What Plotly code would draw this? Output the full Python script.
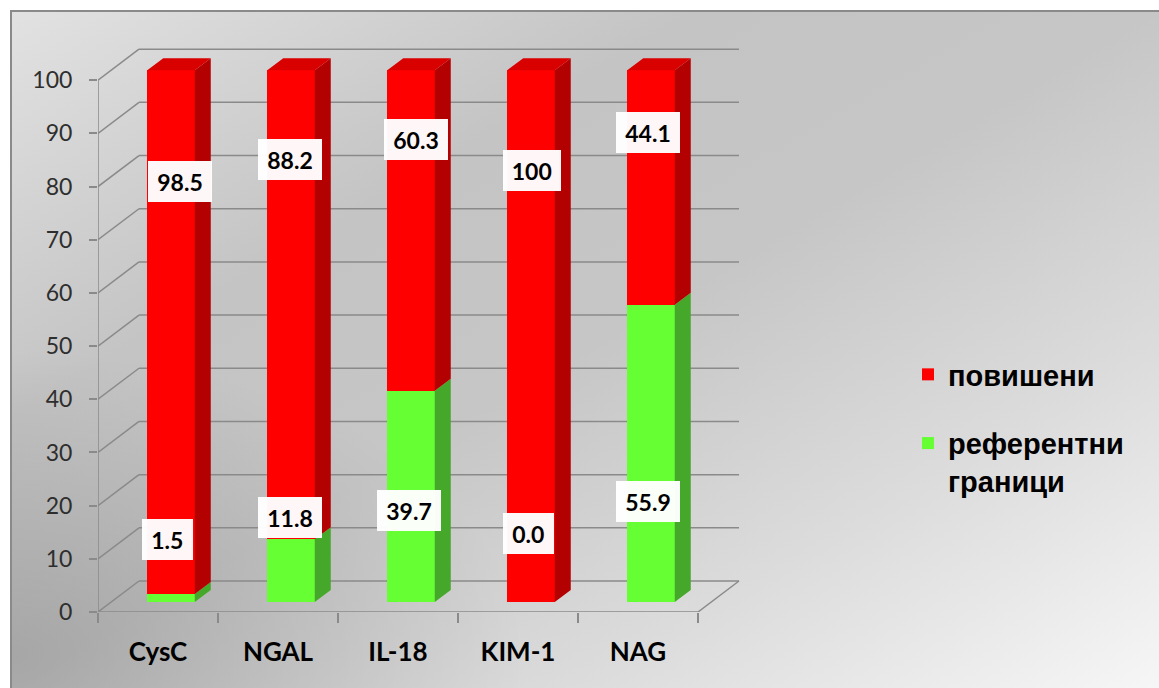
import base64
import plotly.graph_objects as go

# ---- data -------------------------------------------------------------
categories = ["CysC", "NGAL", "IL-18", "KIM-1", "NAG"]
elevated = [98.5, 88.2, 60.3, 100, 44.1]        # повишени
reference = [1.5, 11.8, 39.7, 0.0, 55.9]        # референтни граници
y_ticks = [0, 10, 20, 30, 40, 50, 60, 70, 80, 90, 100]

# value-label anchors (front-plane axis units)
label_dx_red = [0.18, 0.10, 0.15, 0.12, 0.08]
label_y_red = [81.0, 85.0, 88.8, 83.1, 90.1]
label_dx_green = [0.08, 0.10, 0.09, 0.09, 0.08]
label_y_green = [13.7, 17.7, 19.0, 14.7, 20.7]

# ---- geometry ---------------------------------------------------------
W, H = 1159, 688
M_L, M_R, M_T, M_B = 98, 401, 27, 76
X_RANGE = [-0.5, 5.0]
Y_RANGE = [0, 110]
PX_X = (W - M_L - M_R) / (X_RANGE[1] - X_RANGE[0])   # px per category
PX_Y = (H - M_T - M_B) / (Y_RANGE[1] - Y_RANGE[0])   # px per value unit

# oblique projection of the box
WALL_DX, WALL_DY = 41 / PX_X, 31 / PX_Y       # full depth of the box
BAR_SHIFT_X, BAR_SHIFT_Y = 13 / PX_X, 10 / PX_Y  # bar front plane
BAR_W = 47.5 / PX_X
SIDE_DX, SIDE_DY = 16 / PX_X, 12 / PX_Y       # bar depth

RED, RED_SIDE, RED_TOP = "#ff0000", "#b30000", "#d90000"
GREEN, GREEN_SIDE, GREEN_TOP = "#66ff33", "#46a82a", "#58dd2c"
GRID = "#8a8a8a"

n = len(categories)
stack_top = [r + e for r, e in zip(reference, elevated)]


def side_faces(bottoms, tops):
    xs, ys = [], []
    for i, (a, b) in enumerate(zip(bottoms, tops)):
        xr = i + BAR_W / 2
        xs += [xr, xr + SIDE_DX, xr + SIDE_DX, xr, xr, None]
        ys += [a, a + SIDE_DY, b + SIDE_DY, b, a, None]
    return xs, ys


def top_faces(tops):
    xs, ys = [], []
    for i, t in enumerate(tops):
        xl, xr = i - BAR_W / 2, i + BAR_W / 2
        xs += [xl, xl + SIDE_DX, xr + SIDE_DX, xr, xl, None]
        ys += [t, t + SIDE_DY, t + SIDE_DY, t, t, None]
    return xs, ys


fig = go.Figure()

# front faces of the stacked columns
fig.add_trace(go.Bar(
    x=list(range(n)), y=reference, width=BAR_W, name="референтни<br>граници",
    marker=dict(color=GREEN, line=dict(width=0)), legendgroup="g",
    legendrank=2, xaxis="x2", yaxis="y2", hoverinfo="skip"))
fig.add_trace(go.Bar(
    x=list(range(n)), y=elevated, width=BAR_W, name="повишени",
    marker=dict(color=RED, line=dict(width=0)), legendgroup="r",
    legendrank=1, xaxis="x2", yaxis="y2", hoverinfo="skip"))

# side and top faces
gx, gy = side_faces([0] * n, reference)
rx, ry = side_faces(reference, stack_top)
tx, ty = top_faces(stack_top)
for xs, ys, col in [(gx, gy, GREEN_SIDE), (rx, ry, RED_SIDE), (tx, ty, RED_TOP)]:
    fig.add_trace(go.Scatter(
        x=xs, y=ys, mode="lines", fill="toself", fillcolor=col,
        line=dict(width=0, color=col), showlegend=False, hoverinfo="skip",
        xaxis="x2", yaxis="y2"))

# ---- walls and floor --------------------------------------------------
shapes = []
x0, x1 = X_RANGE[0], X_RANGE[0] + n
for v in y_ticks:
    shapes.append(dict(type="line", xref="x", yref="y", layer="below",
                       x0=x0 + WALL_DX, x1=x1 + WALL_DX,
                       y0=v + WALL_DY, y1=v + WALL_DY,
                       line=dict(color=GRID, width=1.5)))
    shapes.append(dict(type="line", xref="x", yref="y", layer="below",
                       x0=x0, x1=x0 + WALL_DX, y0=v, y1=v + WALL_DY,
                       line=dict(color=GRID, width=1.5)))
shapes += [
    dict(type="line", xref="x", yref="y", layer="below", x0=x0, x1=x0,
         y0=0, y1=y_ticks[-1], line=dict(color=GRID, width=1.5)),
    dict(type="line", xref="x", yref="y", layer="below", x0=x0, x1=x1,
         y0=0, y1=0, line=dict(color=GRID, width=1.5)),
    dict(type="line", xref="x", yref="y", layer="below", x0=x1,
         x1=x1 + WALL_DX, y0=0, y1=WALL_DY, line=dict(color=GRID, width=1.5)),
]

# ---- value labels -----------------------------------------------------
def box_width(text):
    return 17 + sum(13.5 if ch.isdigit() else 6.5 for ch in text)


annotations = []
for i in range(n):
    for val, dx, yv in [(elevated[i], label_dx_red[i], label_y_red[i]),
                        (reference[i], label_dx_green[i], label_y_green[i])]:
        txt = str(val)
        annotations.append(dict(
            x=i + dx, y=yv, xref="x", yref="y", text=txt, showarrow=False,
            font=dict(family="Lato", size=23, color="black", weight="bold"),
            bgcolor="rgba(255,255,255,0.97)", borderpad=0, borderwidth=0,
            width=box_width(txt), height=41, align="center", valign="middle"))

# ---- background panel ---------------------------------------------------
svg = f"""<svg xmlns="http://www.w3.org/2000/svg" width="{W-10}" height="{H-10}"
 viewBox="0 0 {W-10} {H-10}" preserveAspectRatio="none">
<defs>
<linearGradient id="g" x1="0" y1="0" x2="1" y2="1">
<stop offset="0" stop-color="#e2e2e2"/>
<stop offset="0.3" stop-color="#c4c4c4"/>
<stop offset="0.5" stop-color="#c6c6c6"/>
<stop offset="0.75" stop-color="#dcdcdc"/>
<stop offset="1" stop-color="#f6f6f6"/>
</linearGradient>
<radialGradient id="d" cx="0" cy="0.95" r="0.45">
<stop offset="0" stop-color="#000" stop-opacity="0.16"/>
<stop offset="1" stop-color="#000" stop-opacity="0"/>
</radialGradient>
</defs>
<rect width="{W-10}" height="{H-10}" fill="url(#g)"/>
<rect width="{W-10}" height="{H-10}" fill="url(#d)"/>
<path d="M1,{H} V1 H{W}" stroke="#8a8a8a" stroke-width="2" fill="none"/>
</svg>"""
bg_src = "data:image/svg+xml;base64," + base64.b64encode(svg.encode()).decode()
pw, ph = W - M_L - M_R, H - M_T - M_B

fig.update_layout(
    width=W, height=H, autosize=False,
    margin=dict(l=M_L, r=M_R, t=M_T, b=M_B),
    paper_bgcolor="white", plot_bgcolor="rgba(0,0,0,0)",
    barmode="stack", bargap=0,
    images=[dict(source=bg_src, xref="paper", yref="paper",
                 x=(10 - M_L) / pw, y=(H - M_B - 10) / ph,
                 sizex=(W - 10) / pw, sizey=(H - 10) / ph,
                 xanchor="left", yanchor="top", sizing="stretch",
                 layer="below")],
    xaxis=dict(range=X_RANGE, tickmode="array", tickvals=list(range(n)),
               ticktext=categories, ticks="", showgrid=False,
               zeroline=False, showline=False, ticklabelstandoff=22,
               tickfont=dict(family="Lato", size=26, color="black",
                             weight="bold"),
               minor=dict(tick0=X_RANGE[0], dtick=1, ticks="outside",
                          ticklen=10, tickcolor=GRID, tickwidth=1.5,
                          showgrid=False)),
    yaxis=dict(range=Y_RANGE, tickmode="array", tickvals=y_ticks,
               ticks="outside", ticklen=8, tickcolor=GRID, tickwidth=1.5,
               showgrid=False, zeroline=False, showline=False,
               ticklabelstandoff=12,
               tickfont=dict(family="Lato", size=23, color="#2e2e2e")),
    xaxis2=dict(overlaying="x", range=[X_RANGE[0] - BAR_SHIFT_X,
                                      X_RANGE[1] - BAR_SHIFT_X],
                visible=False),
    yaxis2=dict(overlaying="y", range=[Y_RANGE[0] - BAR_SHIFT_Y,
                                      Y_RANGE[1] - BAR_SHIFT_Y],
                visible=False),
    shapes=shapes, annotations=annotations,
    legend=dict(x=(908 - M_L) / pw, y=(H - M_B - 349) / ph,
                xanchor="left", yanchor="top", bgcolor="rgba(0,0,0,0)",
                traceorder="grouped", tracegroupgap=28,
                valign="top",
                font=dict(family="Liberation Sans", size=29, color="black",
                          weight="bold")),
)

fig.write_html("out.html")
